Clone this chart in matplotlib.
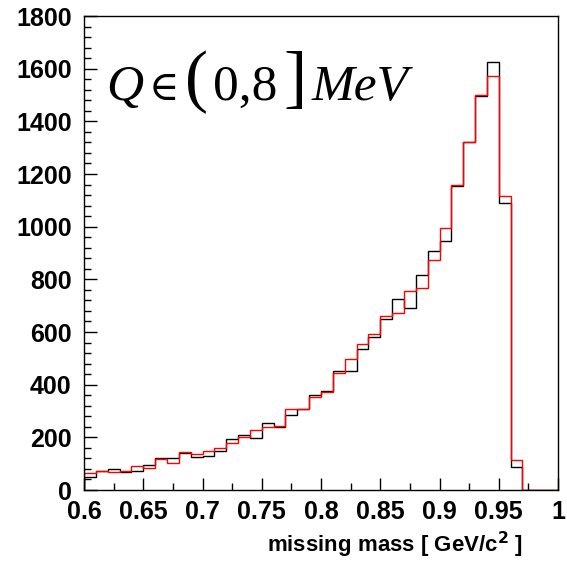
import numpy as np
import matplotlib
matplotlib.use('Agg')
import matplotlib.pyplot as plt
from matplotlib.ticker import MultipleLocator, FormatStrFormatter
from matplotlib.offsetbox import TextArea, HPacker, AnchoredOffsetbox

# missing mass histogram, 40 bins of 10 MeV between 0.6 and 1.0 GeV/c^2
mm_lo, mm_hi, n_bins = 0.6, 1.0, 40
counts_black = [49, 73, 79, 70, 74, 96, 121, 122, 140, 126,
                130, 147, 192, 210, 198, 254, 241, 284, 308, 359,
                377, 451, 451, 534, 582, 651, 727, 691, 817, 909,
                944, 1154, 1321, 1497, 1626, 1088, 87, 0, 0, 0]
counts_red = [63, 71, 67, 73, 93, 85, 117, 103, 145, 135,
              148, 161, 178, 202, 229, 241, 243, 308, 307, 352,
              372, 445, 499, 556, 592, 661, 671, 755, 768, 874,
              995, 1160, 1321, 1499, 1573, 1116, 115, 0, 0, 0]

edges = np.linspace(mm_lo, mm_hi, n_bins + 1)

plt.rcParams['font.family'] = ['Liberation Sans', 'DejaVu Sans']

fig = plt.figure(figsize=(5.67, 5.61), dpi=100)
ax = fig.add_axes([84 / 567, 1 - 490 / 561, (558 - 84) / 567, (490 - 16) / 561])

ax.stairs(counts_black, edges, baseline=0, color='black', lw=1.0)
ax.stairs(counts_red, edges, baseline=0, color='red', lw=1.0)

ax.set_xlim(mm_lo, mm_hi)
ax.set_ylim(0, 1800)

ax.xaxis.set_major_locator(MultipleLocator(0.05))
ax.xaxis.set_minor_locator(MultipleLocator(0.025))
ax.yaxis.set_major_locator(MultipleLocator(200))
ax.yaxis.set_minor_locator(MultipleLocator(40))
ax.xaxis.set_major_formatter(FormatStrFormatter('%g'))

ax.tick_params(which='both', direction='in', top=False, right=False, width=1)
ax.tick_params(which='major', length=9)
ax.tick_params(which='minor', length=5)
ax.tick_params(axis='x', which='major', pad=7, labelsize=18)
ax.tick_params(axis='y', which='major', pad=9, labelsize=18)
for lab in ax.get_xticklabels() + ax.get_yticklabels():
    lab.set_fontweight('bold')

for sp in ax.spines.values():
    sp.set_linewidth(1.0)

ax.set_xlabel(r'missing mass [ GeV/c$^{\mathbf{2}}$ ]', fontsize=16, fontweight='bold')
ax.xaxis.set_label_coords(0.926, -0.116)
ax.xaxis.label.set_horizontalalignment('right')
ax.xaxis.label.set_verticalalignment('center')

# Q range label, built from pieces so the brackets can be taller
serif = ['Liberation Serif', 'DejaVu Serif']
fs = 37
pieces = [
    ('Q', fs, 'italic'),
    ('\u2208', fs * 0.8, 'normal'),
    ('(', fs * 1.35, 'normal'),
    ('0,8', fs, 'normal'),
    (']', fs * 1.35, 'normal'),
    ('MeV', fs, 'italic'),
]
areas = [TextArea(s, textprops=dict(fontsize=size, style=st, family=serif))
         for s, size, st in pieces]
box = HPacker(children=areas, align='baseline', pad=0, sep=4)
anchored = AnchoredOffsetbox(loc='upper left', child=box, pad=0, frameon=False,
                             bbox_to_anchor=(0.046, 0.926), bbox_transform=ax.transAxes,
                             borderpad=0)
ax.add_artist(anchored)

fig.savefig('out.png', dpi=100)
